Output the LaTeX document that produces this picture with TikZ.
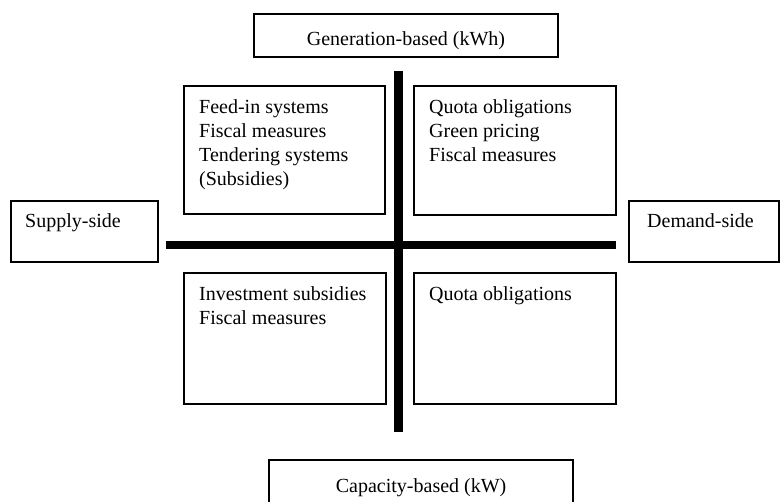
\documentclass[tikz,border=0pt]{standalone}
\usepackage{fontspec}
\setmainfont{Liberation Serif}
\begin{document}
\begin{tikzpicture}[x=1pt,y=-1pt,
  box/.style={draw,line width=2.2pt,inner sep=0pt,anchor=north west},
  lbl/.style={font=\fontsize{20}{24}\selectfont,inner sep=0pt,align=left},
  bar/.style={line width=8.5pt}]
\useasboundingbox (0,0) rectangle (781,501);
% outer boxes
\node[box,minimum width=304pt,minimum height=43pt] (gen) at (253,13) {};
\node[lbl,anchor=base] at (406,45) {Generation-based (kWh)};
\node[box,minimum width=147pt,minimum height=61pt] (sup) at (10,200) {};
\node[lbl,anchor=base west] at (25,227) {Supply-side};
\node[box,minimum width=150pt,minimum height=61pt] (dem) at (628,200) {};
\node[lbl,anchor=base west] at (647,227) {Demand-side};
\node[box,minimum width=304pt,minimum height=50pt] (cap) at (268,459) {};
\node[lbl,anchor=base] at (cap.center |- 0,492) {Capacity-based (kW)};
% cross
\coordinate (hl) at (166,245);
\coordinate (hr) at (616,245);
\coordinate (vt) at (398.5,71);
\coordinate (vb) at (398.5,432);
\draw[bar] (hl) -- (hr);
\draw[bar] (vt) -- (vb);
% quadrant boxes
\node[box,minimum width=201pt,minimum height=128pt] (tl) at (183,85) {};
\node[lbl,anchor=north west] at (199,99.5) {Feed-in systems\\Fiscal measures\\Tendering systems\\(Subsidies)};
\node[box,minimum width=202pt,minimum height=129pt] (tr) at (413,85) {};
\node[lbl,anchor=north west] at (429,99.5) {Quota obligations\\Green pricing\\Fiscal measures};
\node[box,minimum width=202pt,minimum height=131pt] (bl) at (183,272) {};
\node[lbl,anchor=north west] at (199,286.5) {Investment subsidies\\Fiscal measures};
\node[box,minimum width=202pt,minimum height=131pt] (br) at (413,272) {};
\node[lbl,anchor=north west] at (429,286.5) {Quota obligations};
\end{tikzpicture}
\end{document}
